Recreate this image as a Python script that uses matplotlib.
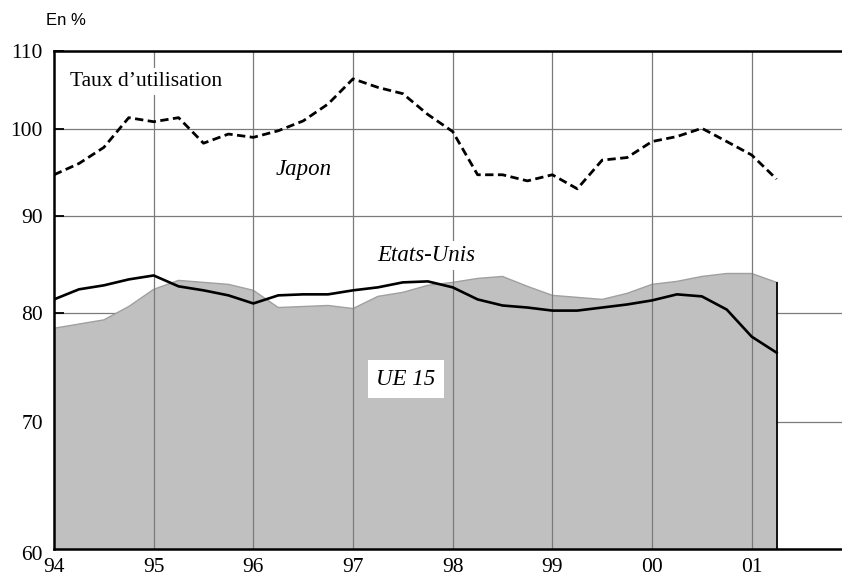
import matplotlib
matplotlib.use('Agg')
import matplotlib.pyplot as plt
import matplotlib.transforms as mtransforms
import numpy as np
import pandas as pd

# --- Data: capacity utilisation rate, quarterly, 1994Q1 - 2001Q2 ---
quarters = pd.period_range('1994Q1', '2001Q2', freq='Q')
japon = [94.6, 95.9, 97.8, 101.4, 100.9, 101.4, 98.3, 99.4, 99.0, 99.8,
         101.0, 103.1, 106.3, 105.2, 104.4, 101.8, 99.7, 94.6, 94.6, 93.9,
         94.6, 93.0, 96.3, 96.6, 98.5, 99.1, 100.1, 98.5, 96.9, 94.1]
etats_unis = [81.3, 82.3, 82.7, 83.3, 83.7, 82.6, 82.2, 81.7, 80.9, 81.7,
              81.8, 81.8, 82.2, 82.5, 83.0, 83.1, 82.5, 81.3, 80.7, 80.5,
              80.2, 80.2, 80.5, 80.8, 81.2, 81.8, 81.6, 80.3, 77.7, 76.2]
ue15 = [78.5, 78.9, 79.3, 80.6, 82.3, 83.2, 83.0, 82.8, 82.2, 80.5,
        80.6, 80.7, 80.4, 81.6, 82.0, 82.7, 83.0, 83.4, 83.6, 82.6,
        81.7, 81.5, 81.3, 81.9, 82.8, 83.1, 83.6, 83.9, 83.9, 83.0]
year_ticks = [94, 95, 96, 97, 98, 99, 100, 101]
year_labels = ['94', '95', '96', '97', '98', '99', '00', '01']
y_ticks = [60, 70, 80, 90, 100, 110]

# position on the axis: years since 1900 + quarter fraction
x = np.array([q.year - 1900 + (q.quarter - 1) / 4 for q in quarters])

serif = ['Liberation Serif', 'DejaVu Serif']

fig = plt.figure(figsize=(8.42, 5.81), dpi=100)
ax = fig.add_axes([54 / 842, (581 - 549.3) / 581, 1 - 54 / 842, (549.3 - 50.7) / 581])

ax.set_yscale('log')
ax.set_xlim(94, 94 + 788 / 99.67)
ax.set_ylim(60, 110)

# horizontal grid under the area, vertical grid over it
ax.set_axisbelow(True)
ax.yaxis.grid(True, color='#7a7a7a', linewidth=0.9)
ax.fill_between(x, ue15, 60, facecolor='#c0c0c0', edgecolor='none', zorder=1)
ax.plot(x, ue15, color='#a0a0a0', linewidth=1.0, zorder=1.2)
ax.vlines(x[-1], 60, ue15[-1], color='black', linewidth=1.3, zorder=1.3)
for yr in year_ticks[1:]:
    ax.axvline(yr, color='#7a7a7a', linewidth=0.9, zorder=1.5)

ax.plot(x, etats_unis, color='black', linewidth=1.9, zorder=3)
ax.plot(x, japon, color='black', linewidth=2.0, dashes=(3.0, 1.6), zorder=3)

# axes styling
for side in ['left', 'bottom', 'top']:
    ax.spines[side].set_linewidth(1.8)
    ax.spines[side].set_color('black')
ax.spines['right'].set_visible(False)

ax.set_yticks(y_ticks)
ax.set_yticklabels([str(v) for v in y_ticks])
ax.yaxis.set_minor_locator(matplotlib.ticker.NullLocator())
ax.tick_params(axis='y', direction='in', length=7, width=1.3, pad=8,
               labelsize=15.5, colors='black')
ax.set_xticks(year_ticks)
ax.set_xticklabels(year_labels)
ax.tick_params(axis='x', length=0, pad=6, labelsize=15.5)
for lab in ax.get_xticklabels() + ax.get_yticklabels():
    lab.set_family(serif)
# bottom label "60" sits a bit lower
lab60 = ax.get_yticklabels()[0]
lab60.set_transform(lab60.get_transform() +
                    mtransforms.ScaledTranslation(0, -3 / 72, fig.dpi_scale_trans))

box = dict(facecolor='white', edgecolor='none', pad=3)
ax.text(0.0203, 0.929, "Taux d\u2019utilisation", transform=ax.transAxes,
        family=serif, fontsize=15.5, va='baseline', ha='left', bbox=box, zorder=4)
ax.text(96.51, 94.6, 'Japon', family=serif, style='italic', fontsize=16.5,
        ha='center', va='baseline', zorder=4)
ax.text(97.73, 85.2, 'Etats-Unis', family=serif, style='italic', fontsize=16.5,
        ha='center', va='baseline', bbox=box, zorder=4)
ax.text(97.53, 73.3, 'UE 15', family=serif, style='italic', fontsize=16.5,
        ha='center', va='baseline', bbox=dict(facecolor='white', edgecolor='none', pad=6),
        zorder=4)

fig.text(46 / 842, (581 - 25) / 581, 'En %', family=['Liberation Sans', 'DejaVu Sans'],
         fontsize=12, ha='left', va='baseline')

fig.savefig('out.png', dpi=100)
